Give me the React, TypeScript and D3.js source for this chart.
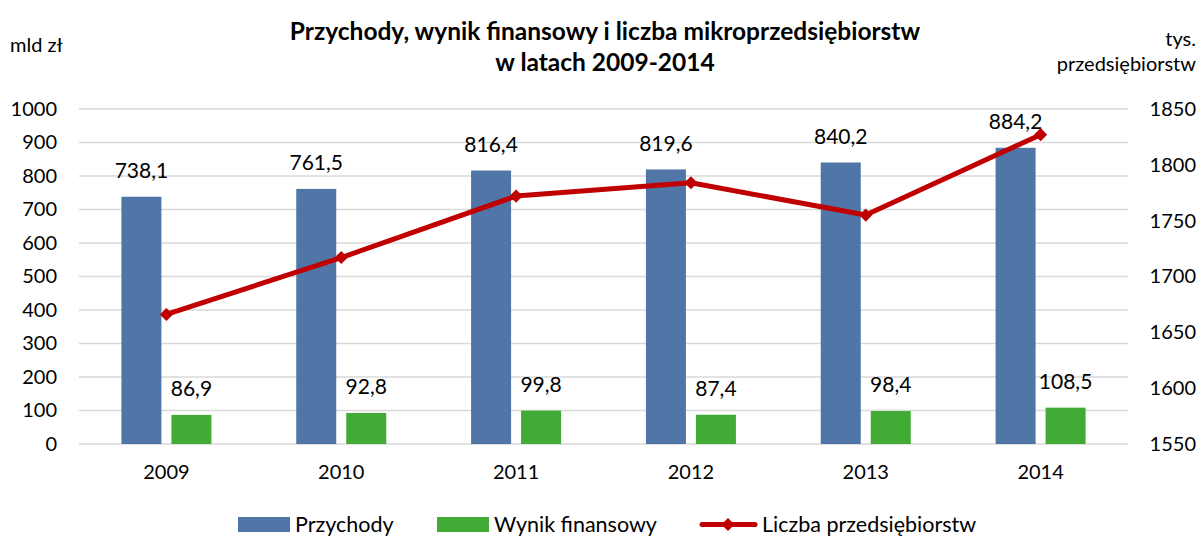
import * as d3 from 'd3';
import React, { useRef, useEffect } from 'react';

// chart data
const years = ['2009', '2010', '2011', '2012', '2013', '2014'];
const przychody = [738.1, 761.5, 816.4, 819.6, 840.2, 884.2];
const wynik = [86.9, 92.8, 99.8, 87.4, 98.4, 108.5];
const liczba = [1666, 1717, 1772, 1784, 1755, 1827];
const leftTicks = [0, 100, 200, 300, 400, 500, 600, 700, 800, 900, 1000];
const rightTicks = [1550, 1600, 1650, 1700, 1750, 1800, 1850];

const W = 1201, H = 538;
const FONT = 'Lato, "Open Sans", sans-serif';

function Chart() {
    const ref = useRef<SVGSVGElement>(null);

    useEffect(() => {
        const svg = d3.select(ref.current);
        svg.selectAll('*').remove();

        const left = 79, right = 1128, top = 109, bottom = 444;

        const x = d3.scaleBand().domain(years).range([left, right]);
        const yL = d3.scaleLinear().domain([0, 1000]).range([bottom, top]);
        const yR = d3.scaleLinear().domain([1550, 1850]).range([bottom, top]);

        // grid
        svg.append('g').selectAll('line').data(leftTicks).enter().append('line')
            .attr('x1', left).attr('x2', right)
            .attr('y1', d => yL(d)).attr('y2', d => yL(d))
            .attr('stroke', '#d9d9d9').attr('stroke-width', 1.3);

        // left axis
        const gl = svg.append('g').attr('transform', `translate(${left - 22},0)`)
            .call(d3.axisLeft(yL).tickValues(leftTicks).tickSize(0).tickPadding(0).tickFormat(d3.format('d')));
        gl.select('.domain').remove();
        gl.selectAll('text').attr('font-family', FONT).attr('font-size', 20).attr('fill', '#000');

        // right axis
        const gr = svg.append('g').attr('transform', `translate(1196,0)`)
            .call(d3.axisLeft(yR).tickValues(rightTicks).tickSize(0).tickPadding(0).tickFormat(d3.format('d')));
        gr.select('.domain').remove();
        gr.selectAll('text').attr('font-family', FONT).attr('font-size', 20).attr('fill', '#000');

        // x axis
        const gx = svg.append('g').attr('transform', `translate(0,${bottom})`)
            .call(d3.axisBottom(x).tickSize(0).tickPadding(21));
        gx.select('.domain').remove();
        gx.selectAll('text').attr('font-family', FONT).attr('font-size', 20).attr('fill', '#000');

        const cx = (d: string) => (x(d) as number) + x.bandwidth() / 2;

        // bars
        svg.append('g').selectAll('rect').data(przychody).enter().append('rect')
            .attr('x', (d, i) => cx(years[i]) - 45).attr('width', 40)
            .attr('y', d => yL(d)).attr('height', d => bottom - yL(d))
            .attr('fill', '#4f76a6');
        svg.append('g').selectAll('rect').data(wynik).enter().append('rect')
            .attr('x', (d, i) => cx(years[i]) + 5).attr('width', 40)
            .attr('y', d => yL(d)).attr('height', d => bottom - yL(d))
            .attr('fill', '#41ab35');

        const fmt = (v: number) => v.toFixed(1).replace('.', ',');

        // value labels
        svg.append('g').selectAll('text').data(przychody).enter().append('text')
            .attr('x', (d, i) => cx(years[i]) - 25)
            .attr('y', d => yL(d) - 26)
            .attr('text-anchor', 'middle').attr('dy', '0.35em')
            .attr('font-family', FONT).attr('font-size', 21)
            .text(d => fmt(d));
        svg.append('g').selectAll('text').data(wynik).enter().append('text')
            .attr('x', (d, i) => cx(years[i]) + 25)
            .attr('y', d => yL(d) - 26)
            .attr('text-anchor', 'middle').attr('dy', '0.35em')
            .attr('font-family', FONT).attr('font-size', 21)
            .text(d => fmt(d));

        // line
        const line = d3.line<number>().x((d, i) => cx(years[i])).y(d => yR(d));
        svg.append('path').datum(liczba).attr('d', line)
            .attr('fill', 'none').attr('stroke', '#c00000').attr('stroke-width', 5)
            .attr('stroke-linejoin', 'round');
        const diamond = d3.symbol().type(d3.symbolDiamond2).size(110);
        svg.append('g').selectAll('path').data(liczba).enter().append('path')
            .attr('d', diamond)
            .attr('transform', (d, i) => `translate(${cx(years[i])},${yR(d)})`)
            .attr('fill', '#c00000');

        // titles
        const title = svg.append('text').attr('text-anchor', 'middle')
            .attr('font-family', FONT).attr('font-size', 24.5).attr('font-weight', 'bold');
        title.append('tspan').attr('x', 605).attr('y', 40).text('Przychody, wynik finansowy i liczba mikroprzedsiębiorstw');
        title.append('tspan').attr('x', 605).attr('y', 71).text('w latach 2009-2014');

        svg.append('text').attr('x', 10).attr('y', 52)
            .attr('font-family', FONT).attr('font-size', 20).text('mld zł');
        svg.append('text').attr('x', 1196).attr('y', 46).attr('text-anchor', 'end')
            .attr('font-family', FONT).attr('font-size', 20).text('tys.');
        svg.append('text').attr('x', 1196).attr('y', 71).attr('text-anchor', 'end')
            .attr('font-family', FONT).attr('font-size', 20).text('przedsiębiorstw');

        // legend
        const lg = svg.append('g').attr('font-family', FONT).attr('font-size', 21.5);
        lg.append('rect').attr('x', 238).attr('y', 517).attr('width', 52).attr('height', 15).attr('fill', '#4f76a6');
        lg.append('text').attr('x', 295).attr('y', 532).text('Przychody');
        lg.append('rect').attr('x', 437).attr('y', 517).attr('width', 52).attr('height', 15).attr('fill', '#41ab35');
        lg.append('text').attr('x', 494).attr('y', 532).text('Wynik finansowy');
        lg.append('line').attr('x1', 702).attr('x2', 755).attr('y1', 524.5).attr('y2', 524.5)
            .attr('stroke', '#c00000').attr('stroke-width', 5).attr('stroke-linecap', 'round');
        lg.append('path').attr('d', diamond).attr('transform', 'translate(728,524.5)').attr('fill', '#c00000');
        lg.append('text').attr('x', 762).attr('y', 532).text('Liczba przedsiębiorstw');
    }, []);

    return <svg ref={ref} width={W} height={H} style={{ position: 'absolute', left: 0, top: 0, background: '#fff' }} />;
}

export default function App() {
    return <Chart />;
}
